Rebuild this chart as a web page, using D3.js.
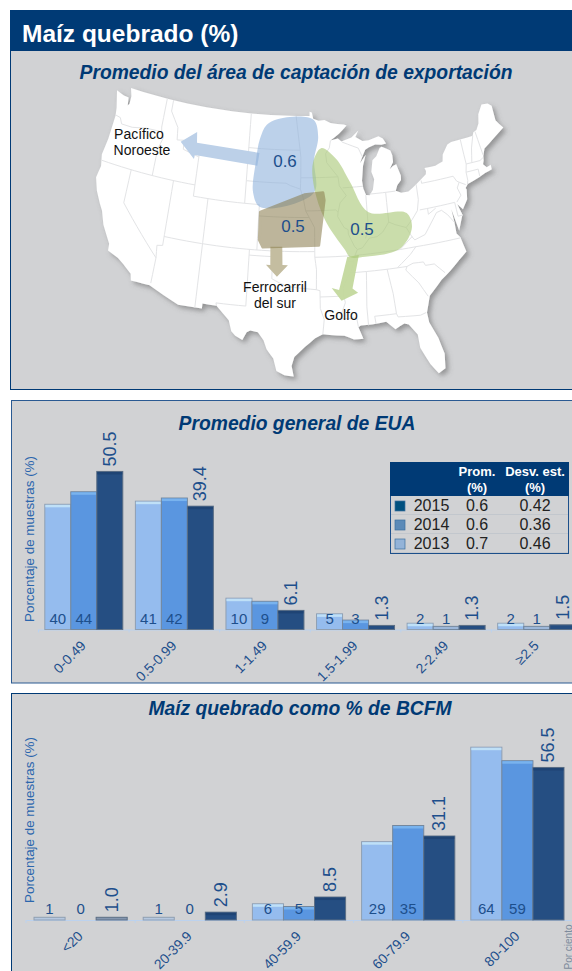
<!DOCTYPE html>
<html><head><meta charset="utf-8">
<script src="https://cdn.jsdelivr.net/npm/d3@7"></script>
<style>html,body{margin:0;padding:0;background:#fff}svg{display:block}text{font-family:"Liberation Sans",Arial,sans-serif}</style>
</head><body><svg id="c" width="572" height="971"></svg>
<script>
// ---------- data ----------
const seriesNames = ["2013","2014","2015"];
const rangeCats = ["0-0.49","0.5-0.99","1-1.49","1.5-1.99","2-2.49","≥2.5"];
const range2013 = [40,41,10,5,2,2];
const range2014 = [44,42,9,3,1,1];
const range2015 = [50.5,39.4,6.1,1.3,1.3,1.5];
const bcfmCats = ["<20","20-39.9","40-59.9","60-79.9","80-100"];
const bcfm2013 = [1,1,6,29,64];
const bcfm2014 = [0,0,5,35,59];
const bcfm2015 = [1.0,2.9,8.5,31.1,56.5];
const tableYears = ["2015","2014","2013"];
const tableMean = ["0.6","0.6","0.7"];
const tableSd = ["0.42","0.36","0.46"];
// map geometry, lon/lat
const usOutline = [[-124.7,48.38],[-123.5,48.15],[-122.75,48.1],[-122.6,47.4],[-122.4,47.6],[-122.4,48.3],[-122.76,49],[-95.15,49],[-95.15,49.38],[-94.8,49.3],[-94.6,48.75],[-93.8,48.55],[-92.9,48.6],[-92,48.3],[-91,48.2],[-90,48.1],[-89.6,48],[-90.8,47.3],[-92.1,46.75],[-91,46.9],[-90.5,46.6],[-89,46.9],[-87.9,47.47],[-88.4,46.9],[-87.4,46.5],[-86.5,46.5],[-85,46.75],[-84.4,46.5],[-84,46],[-84.7,45.95],[-85.6,46.05],[-86.6,45.85],[-87.1,45.7],[-87.6,45.1],[-88,44.55],[-87.1,45.25],[-87.6,44.3],[-87.9,43],[-87.8,42.3],[-87.5,41.7],[-87,41.65],[-86.5,42.1],[-86.2,43],[-86.5,43.7],[-86.2,44.7],[-85.6,45],[-85,45.7],[-84.7,45.78],[-83.5,45.35],[-83.3,44.9],[-83.3,44.3],[-83.9,43.7],[-83.4,43.95],[-82.9,44.05],[-82.45,43],[-82.5,42.6],[-83.1,42.2],[-83.4,41.75],[-82.7,41.5],[-81.7,41.5],[-80.5,42],[-79,42.7],[-78.9,43],[-79.05,43.27],[-77.5,43.27],[-76.4,43.5],[-76.2,44.1],[-75.3,44.85],[-74.7,45],[-71.5,45],[-71.3,45.3],[-70.8,45.4],[-70.3,45.9],[-70,46.7],[-69.2,47.45],[-68.3,47.35],[-67.8,47.05],[-67.8,45.7],[-67.45,45.3],[-67,44.85],[-68.5,44.3],[-69.5,43.9],[-70.3,43.6],[-70.7,43],[-70.8,42.6],[-71,42.3],[-70.6,41.95],[-70,42.05],[-70,41.65],[-71,41.5],[-71.9,41.3],[-73.6,41],[-74,40.7],[-73.9,40.55],[-74.1,39.7],[-74.9,38.95],[-75.5,39.5],[-75.1,38.5],[-75.9,37.2],[-76.4,39.2],[-76.3,38],[-76.3,37],[-75.9,36.6],[-75.5,35.25],[-76.6,34.65],[-77.9,33.9],[-79.1,33.3],[-80.8,32.1],[-81.4,30.7],[-81.3,29.8],[-80.5,28.3],[-80.05,26.8],[-80.2,25.5],[-81,25.15],[-81.8,26.1],[-82.7,27.7],[-82.8,28.9],[-83.7,29.9],[-84.2,30.05],[-85.3,29.65],[-86.3,30.4],[-88,30.3],[-89.3,30.3],[-89.6,30.15],[-89.4,29.75],[-89.1,29.1],[-90.2,29.1],[-91.3,29.5],[-92.2,29.55],[-93.8,29.7],[-94.7,29.35],[-95.9,28.6],[-97.1,27.7],[-97.4,26.9],[-97.15,25.95],[-98.2,26.05],[-99.1,26.4],[-99.5,27.5],[-100.3,28.3],[-100.7,29.1],[-101.4,29.77],[-102.3,29.88],[-102.7,29.7],[-103.15,28.98],[-104,29.3],[-104.5,29.65],[-104.9,30.6],[-106.5,31.75],[-108.2,31.78],[-108.2,31.33],[-111.07,31.33],[-114.8,32.5],[-117.12,32.53],[-117.3,33.1],[-118.4,33.75],[-119.2,34.15],[-120.6,34.55],[-120.65,35.15],[-121.9,36.6],[-122.5,37.75],[-123,38.3],[-123.8,39.3],[-124.35,40.4],[-124.1,41.5],[-124.4,42.5],[-124.1,44],[-123.95,46.2],[-124.1,46.9],[-124.7,48.38]];
const stateLines = [
[[-124,46.25],[-123.2,46.15],[-122.8,45.65],[-121.2,45.65],[-119.3,45.93],[-116.92,46]],
[[-117.03,49],[-117.04,46.4],[-116.92,46],[-116.5,45.5],[-117,44.4],[-117.03,42]],
[[-124.2,42],[-111.05,42]],
[[-120,42],[-120,39],[-114.6,35],[-114.7,32.72]],
[[-114.04,42],[-114.04,36.2],[-114.75,36.1],[-114.6,35]],
[[-114.04,37],[-94.62,37]],
[[-109.05,41],[-109.05,31.33]],
[[-111.05,45],[-111.05,41],[-102.05,41]],
[[-111.05,45],[-104.05,45]],
[[-104.05,49],[-104.05,41]],
[[-116.05,49],[-116.05,48],[-114.7,46.7],[-114.5,45.6],[-113.5,45.7],[-113.4,44.9],[-111.05,44.5]],
[[-104.05,45.94],[-96.56,45.94]],
[[-104.05,43],[-98.5,43],[-97.9,42.8],[-96.5,42.5]],
[[-102.05,40],[-95.3,40]],
[[-102.05,41],[-102.05,37]],
[[-103,37],[-103,32],[-106.6,32],[-106.5,31.75]],
[[-103,36.5],[-100,36.5],[-100,34.56],[-99,34.2],[-97.9,33.9],[-96.5,33.8],[-94.5,33.65],[-94.04,33.55],[-94.04,32],[-93.6,31],[-93.8,29.7]],
[[-94.62,36.5],[-94.43,35.4],[-94.48,33.65]],
[[-95.77,40.58],[-95.3,40],[-94.6,39.1],[-94.62,36.5]],
[[-96.45,43.5],[-91.22,43.5]],
[[-97.2,49],[-96.56,45.94],[-96.45,45.3],[-96.45,43.5],[-96.5,42.5],[-96.1,41.7],[-95.9,41],[-95.77,40.58]],
[[-95.77,40.58],[-91.73,40.6],[-91.42,40.38]],
[[-92.1,46.75],[-92.3,46.1],[-92.87,45.6],[-92.75,44.8],[-91.22,43.5],[-91.1,42.7],[-90.2,41.8],[-91.1,41.2],[-91.42,40.38],[-91.5,40],[-90.7,39],[-90.2,38.8],[-90.2,38.4],[-89.5,37.3],[-89.15,37],[-89.5,36.5],[-89.7,36],[-90.1,35.1],[-90.6,34.6],[-91.2,33.7],[-91.15,33],[-91,32.4],[-91.5,31.5],[-91.6,31],[-89.75,31],[-89.6,30.2]],
[[-94.62,36.5],[-90.15,36.5],[-90.37,36],[-89.7,36]],
[[-94.04,33],[-91.15,33]],
[[-90.1,35],[-84.32,35],[-83.1,35]],
[[-89.5,36.5],[-81.68,36.59]],
[[-89.15,37],[-88.5,37.1],[-87.5,37.9],[-86.5,37.95],[-85.7,38.3],[-84.8,39.1],[-84,38.8],[-82.6,38.4]],
[[-87.53,41.7],[-87.53,39.3],[-87.6,38.7],[-88,37.9]],
[[-84.8,41.7],[-84.8,39.1]],
[[-87,41.75],[-83.45,41.72]],
[[-90.65,42.5],[-87.8,42.5]],
[[-90.4,46.55],[-88.1,45.9],[-87.6,45.1]],
[[-80.52,42],[-80.52,40.64],[-80.85,39.7],[-81.7,39],[-82.6,38.4]],
[[-79.76,42.25],[-79.76,42],[-75.35,42],[-75,41.5],[-74.7,41.35],[-75.1,40.9],[-74.8,40.2],[-75.5,39.7]],
[[-80.52,39.72],[-75.8,39.72]],
[[-74.7,41.35],[-73.9,41]],
[[-73.35,45],[-73.3,43.6],[-73.25,42.75],[-73.5,42.05],[-73.5,41.3],[-73.65,41]],
[[-71.5,45],[-72.05,44],[-72.45,42.73]],
[[-73.25,42.75],[-71.3,42.7],[-70.8,42.87]],
[[-73.5,42.05],[-71.8,42.02],[-71.8,41.4]],
[[-71.05,45.3],[-70.7,43.1]],
[[-82,37.5],[-81.7,37.2],[-80.3,37.5],[-79.3,38.4],[-78.4,39.2],[-77.7,39.3],[-77,38.8],[-76.3,38]],
[[-81.97,37.54],[-83.68,36.6]],
[[-82.6,38.4],[-82,37.5]],
[[-79.48,39.72],[-79.48,39.2],[-78.4,39.6]],
[[-81.68,36.59],[-75.9,36.55]],
[[-83.1,35],[-82.3,35.2],[-81,35.15],[-80.8,34.82],[-79.7,34.8],[-78.55,33.85]],
[[-83.1,35],[-83.3,34.7],[-81.9,33.4],[-81,32.1]],
[[-85.6,35],[-85.15,32.8],[-85,31]],
[[-87.6,31],[-85,31],[-84.85,30.7],[-82.2,30.55],[-81.5,30.7]],
[[-88.2,35],[-88.45,31.9],[-88.4,30.25]],
[[-87.6,31],[-87.5,30.3]],
[[-75.8,39.72],[-75.7,38.46],[-75.05,38.45]],
[[-81.68,36.59],[-82.5,36],[-84.32,35]]
];
const regionBlue = [[-100.05,48.65],[-94.55,48.65],[-93.9,47.15],[-94.55,45.1],[-94.6,42.2],[-102,40.8],[-103,42],[-102.9,44.7],[-102.5,46.8],[-101.6,48.1]];
const arrowBlue = [[-102.45,45.55],[-111.6,45.7],[-111.8,46.65],[-113.95,45.5],[-111.7,44.25],[-111.65,44.6],[-102.65,44.4]];
const regionTan = [[-101.85,40.35],[-95.95,42],[-93.4,42.15],[-93.25,41.5],[-94.1,37.55],[-101.3,37.3],[-101.8,37.9]];
const arrowTan = [[-100.33,37.35],[-98.8,37.4],[-98.72,35.8],[-98.03,35.8],[-99.37,34.75],[-100.8,35.75],[-100.25,35.75]];
const regionGreen = [[-93.5,46.1],[-91.4,45.1],[-89.6,43],[-87.4,40.2],[-82.3,39.65],[-81.85,38.35],[-83.6,36.7],[-88.2,36.3],[-90.15,36.4],[-90.75,37.05],[-93.2,39.75],[-94.6,42.65],[-94.7,44.85]];
const arrowGreen = [[-90.5,36.4],[-89,36.5],[-90.05,33.6],[-89.4,33.2],[-91.45,32.6],[-92.6,33.75],[-91.7,33.55]];

// ---------- styles ----------
const navy="#003a75", panel="#d1d2d4", ink="#1d4f8c";
const fills={"2013":"#95bcee","2014":"#5a96e0","2015":"#254e82"};
const tops={"2013":"#bfe0f7","2014":"#79b3ee","2015":"#1f4474"};
const strokes={"2013":"#8f9fb2","2014":"#74889e","2015":"#5c6f85"};

const svg=d3.select("#c");
const defs=svg.append("defs");
const f=defs.append("filter").attr("id","sh").attr("x","-5%").attr("y","-5%").attr("width","112%").attr("height","112%");
f.append("feDropShadow").attr("dx",3).attr("dy",3).attr("stdDeviation",2.5).attr("flood-color","#555").attr("flood-opacity",.5);

// panels
const rect=(x,y,w,h,fill,st)=>svg.append("rect").attr("x",x).attr("y",y).attr("width",w).attr("height",h).attr("fill",fill).attr("stroke",st||"none");
rect(10.5,50.5,570,339,panel,navy);
rect(10,10,570,41,navy);
rect(11.5,400.5,570,282.5,panel,"#2a5a92");
rect(11.5,693.5,570,290,panel,navy);

svg.append("text").attr("x",22).attr("y",42).attr("fill","#fff").attr("font-weight",700).attr("font-size",24.5).text("Maíz quebrado (%)");
const subtitle=(t,x,y)=>svg.append("text").attr("x",x).attr("y",y).attr("text-anchor","middle").attr("fill",navy).attr("font-weight",700).attr("font-style","italic").attr("font-size",19.3).text(t);
subtitle("Promedio del área de captación de exportación",296,79);
subtitle("Promedio general de EUA",297,430);
subtitle("Maíz quebrado como % de BCFM",300,715);

// ---------- map ----------
const albers=d3.geoConicEqualArea().parallels([29.5,45.5]).rotate([96,0]).center([0,37.5]).scale(565).translate([304,246]);
const yStretch=d3.scaleLinear().domain([246,247]).range([246,246+646/565]);
const place=p=>{const q=albers(p);return [q[0],yStretch(q[1])];};
const densify=ring=>{const out=[];ring.forEach((p,i)=>{if(i){const a=ring[i-1],n=Math.ceil(Math.hypot(p[0]-a[0],p[1]-a[1]));for(let k=1;k<n;k++)out.push([a[0]+(p[0]-a[0])*k/n,a[1]+(p[1]-a[1])*k/n]);}out.push(p);});return out;};
const lin=d3.line();
const mapPath=r=>lin(densify(r).map(place));
const blob=d3.line().curve(d3.curveCatmullRomClosed.alpha(.6));
const closed=r=>lin(r.map(place))+"Z";
const smooth=r=>blob(r.map(place));
svg.append("path").attr("d",mapPath(usOutline)+"Z").attr("fill","#fff").attr("filter","url(#sh)");
svg.append("g").selectAll("path").data(stateLines).join("path").attr("d",mapPath).attr("fill","none").attr("stroke","#e3e4e6").attr("stroke-width",1);

svg.append("path").attr("d",closed(arrowBlue)).attr("fill","#bcd0e8");
svg.append("path").attr("d",closed(arrowTan)).attr("fill","#c4bda0");
svg.append("path").attr("d",closed(arrowGreen)).attr("fill","#c3d89d").attr("opacity",.95);
svg.append("path").attr("d",smooth(regionBlue)).attr("fill","#8fb3dc").attr("opacity",.6);
svg.append("path").attr("d",smooth(regionGreen)).attr("fill","#a9c878").attr("opacity",.62);
svg.append("path").attr("d",closed(regionTan)).attr("fill","#8a7d4e").attr("stroke","#8a7d4e").attr("stroke-width",3).attr("stroke-linejoin","round").attr("opacity",.56);

const note=(t,x,y,size,fill)=>svg.append("text").attr("x",x).attr("y",y).attr("text-anchor","middle").attr("font-size",size).attr("fill",fill).text(t);
note("0.6",285,167,17,ink);note("0.5",293,232,17,ink);note("0.5",362,235,17,ink);
note("Pacífico",139,139,14,"#111");note("Noroeste",142,155,14,"#111");
note("Ferrocarril",275,292,14,"#111");note("del sur",275,308,14,"#111");note("Golfo",341,320,14,"#111");

// ---------- grouped bars ----------
function bars(o){
  const x=d3.scaleBand().domain(o.cats).range(o.xr);
  const xi=d3.scaleBand().domain(seriesNames).range([o.inset,x.bandwidth()-o.inset]);
  const y=d3.scaleLinear().domain([0,70]).range([o.base,o.base-70*o.unit]);
  const g=svg.append("g");
  const rows=o.cats.map((c,i)=>({c,v:{"2013":o.s13[i],"2014":o.s14[i],"2015":o.s15[i]}}));
  const ax=g.append("g").attr("transform",`translate(0,${o.base})`).call(d3.axisBottom(x).tickSize(0).tickFormat(""));
  ax.select(".domain").attr("stroke","#bcd2ee").attr("stroke-width",1.2);
  g.selectAll(".edge").data(o.cats).join("line").attr("x1",d=>x(d)).attr("x2",d=>x(d)).attr("y1",o.base).attr("y2",o.base+3).attr("stroke","#bcd2ee");
  const grp=g.selectAll(".grp").data(rows).join("g").attr("transform",d=>`translate(${x(d.c)},0)`);
  seriesNames.forEach(s=>{
    grp.append("rect").attr("x",xi(s)).attr("y",d=>y(d.v[s])).attr("width",xi.bandwidth()).attr("height",d=>o.base-y(d.v[s]))
      .attr("fill",fills[s]).attr("fill-opacity",d=>o.base-y(d.v[s])<4?.45:1).attr("stroke",strokes[s]).attr("stroke-width",1);
    grp.append("rect").attr("x",xi(s)+.5).attr("y",d=>y(d.v[s])+.5).attr("width",xi.bandwidth()-1).attr("height",d=>o.base-y(d.v[s])<5?0:2.5).attr("fill",tops[s]);
  });
  ["2013","2014"].forEach(s=>grp.append("text").attr("x",xi(s)+xi.bandwidth()/2).attr("y",o.base-o.labelUp).attr("text-anchor","middle").attr("font-size",15).attr("fill",ink).text(d=>d.v[s]));
  grp.append("text").attr("transform",d=>`translate(${xi("2015")+xi.bandwidth()/2+6},${y(d.v["2015"])-5}) rotate(-90)`).attr("font-size",18).attr("fill",ink).text(d=>d3.format(".1f")(d.v["2015"]));
  g.selectAll(".tl").data(o.cats).join("text").attr("text-anchor","end").attr("font-size",13.8).attr("fill",ink)
    .attr("transform",d=>`translate(${x(d)+x.bandwidth()/2+3},${o.base+o.tickDown}) rotate(-45)`).text(d=>d);
  svg.append("text").attr("transform",`translate(${o.ty},${o.tb}) rotate(-90)`).attr("font-size",13.4).attr("fill","#2b66ad").text("Porcentaje de muestras (%)");
}
bars({cats:rangeCats,s13:range2013,s14:range2014,s15:range2015,xr:[38.5,582],inset:6.3,base:629.5,unit:3.13,labelUp:6,tickDown:17,ty:34,tb:622});
bars({cats:bcfmCats,s13:bcfm2013,s14:bcfm2014,s15:bcfm2015,xr:[26,572],inset:8,base:920,unit:2.7,labelUp:6,tickDown:17,ty:34,tb:903});

// ---------- table ----------
const tb=svg.append("g");
tb.append("rect").attr("x",390.5).attr("y",462.5).attr("width",178).attr("height",91).attr("fill",panel).attr("stroke","#1c4f8a");
tb.append("rect").attr("x",390).attr("y",462).attr("width",179).attr("height",34).attr("fill",navy);
const hd=(t,x,y)=>tb.append("text").attr("x",x).attr("y",y).attr("text-anchor","middle").attr("fill","#fff").attr("font-weight",700).attr("font-size",13).text(t);
hd("Prom.",477,476);hd("(%)",477,492);hd("Desv. est.",535,476);hd("(%)",535,492);
const rowY=d3.scalePoint().domain(tableYears).range([511,549]);
const swatch={"2015":"#00507f","2014":"#5b8ab8","2013":"#93b3d8"};
const tr=tb.selectAll(".r").data(tableYears.map((y,i)=>({y,m:tableMean[i],s:tableSd[i]}))).join("g");
tr.append("line").attr("x1",391).attr("x2",568).attr("y1",d=>rowY(d.y)+3.5).attr("y2",d=>rowY(d.y)+3.5).attr("stroke","#c2c7cd");
tr.append("rect").attr("x",395).attr("y",d=>rowY(d.y)-10).attr("width",10).attr("height",10).attr("fill",d=>swatch[d.y]).attr("stroke","#3d6f9f").attr("stroke-width",.7);
const cell=(x,k,a)=>tr.append("text").attr("x",x).attr("y",d=>rowY(d.y)).attr("text-anchor",a).attr("font-size",16).attr("fill","#222").text(d=>d[k]);
cell(431.5,"y","middle");cell(477,"m","middle");cell(535,"s","middle");

svg.append("text").attr("transform","translate(571.5,969.5) rotate(-90)").attr("font-size",10).attr("fill","#7d8b9c").text("Por ciento");
</script></body></html>
